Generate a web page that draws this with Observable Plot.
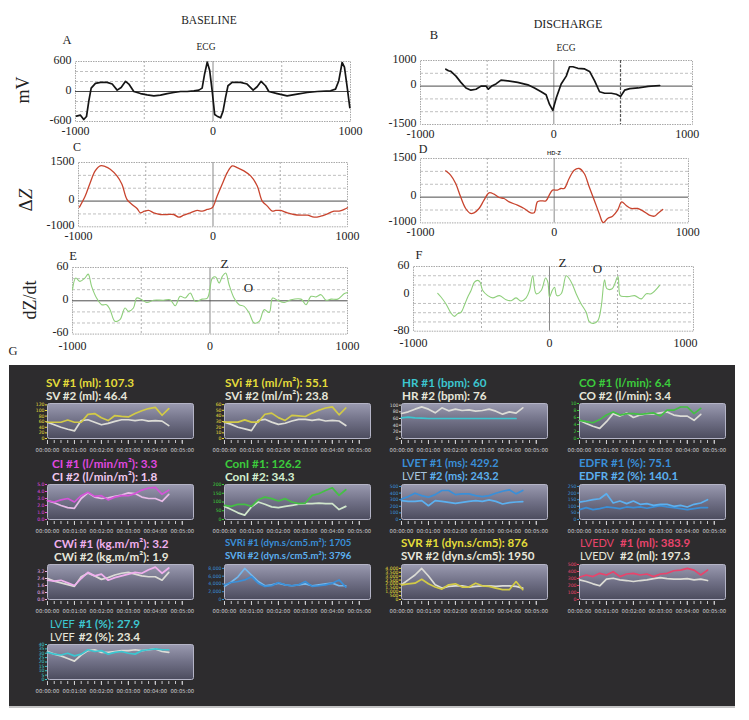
<!DOCTYPE html>
<html><head><meta charset="utf-8">
<script src="https://cdn.jsdelivr.net/npm/d3@7"></script>
<script src="https://cdn.jsdelivr.net/npm/@observablehq/plot@0.6"></script>
<style>
body{margin:0;background:#fff;}
#root{position:relative;width:749px;height:720px;overflow:hidden;background:#fff;}
</style></head><body>
<svg width="0" height="0" style="position:absolute"><defs>
<linearGradient id="boxGrad" x1="0" y1="0" x2="0" y2="1">
<stop offset="0" stop-color="#9a9ab0"/><stop offset="0.5" stop-color="#707086"/><stop offset="1" stop-color="#4c4c5e"/>
</linearGradient></defs></svg>
<div id="root"></div>
<script>
// ---------- top traces (time ms, value) ----------
const X_TICKS = [-1000, 0, 1000];
const ecgBase = [[-993,-493],[-964,-473],[-940,-560],[-920,-500],[-903,-189],[-886,68],[-855,162],[-818,182],[-770,182],[-733,149],[-697,27],[-668,81],[-636,203],[-612,149],[-576,0],[-527,-41],[-479,-68],[-430,-88],[-382,-74],[-333,-41],[-285,-20],[-236,0],[-188,0],[-139,14],[-103,27],[-79,68],[-61,351],[-42,588],[-24,419],[-6,14],[12,-459],[30,-493],[55,-527],[73,-392],[91,-122],[109,115],[139,182],[200,182],[248,149],[292,27],[321,95],[350,203],[382,115],[406,0],[467,-41],[539,-88],[612,-54],[685,-20],[758,0],[855,14],[891,47],[915,216],[939,580],[956,486],[976,81],[995,-324]];
const zBase = [[-993,-235],[-950,196],[-913,717],[-876,1173],[-839,1369],[-801,1343],[-764,1238],[-714,978],[-677,652],[-640,65],[-602,-130],[-565,-287],[-540,-456],[-510,-391],[-478,-365],[-441,-456],[-391,-522],[-342,-522],[-292,-522],[-255,-626],[-217,-548],[-168,-456],[-118,-365],[-81,-391],[-43,-326],[-6,-261],[31,196],[68,652],[106,1108],[143,1369],[180,1304],[230,1173],[280,978],[329,587],[366,0],[404,-196],[441,-391],[466,-365],[503,-365],[553,-456],[602,-522],[652,-548],[702,-548],[752,-626],[801,-587],[851,-496],[900,-391],[938,-391],[975,-326],[1000,-261]];
const dzBase = [[-1000,20],[-976,41],[-946,35],[-910,41],[-886,48],[-861,26],[-825,5],[-788,-7],[-752,-7],[-727,-16],[-691,-37],[-655,-34],[-618,-13],[-594,-19],[-557,-13],[-533,5],[-496,2],[-460,-3],[-411,1],[-338,1],[-290,2],[-253,-9],[-217,8],[-180,5],[-144,14],[-107,-1],[-58,3],[-19,5],[17,41],[41,43],[66,32],[90,44],[114,50],[139,29],[175,5],[212,-7],[248,-10],[285,-22],[321,-40],[358,-37],[394,-16],[431,-21],[455,5],[491,1],[540,-3],[589,2],[662,3],[698,-7],[735,8],[771,7],[808,11],[844,1],[881,3],[929,3],[978,13],[1000,15]];
const ecgDis = [[-810,659],[-790,600],[-772,573],[-734,390],[-697,146],[-659,-73],[-622,-159],[-584,-122],[-546,0],[-509,0],[-491,-122],[-466,0],[-434,85],[-396,232],[-346,207],[-271,146],[-195,49],[-145,-73],[-95,-220],[-58,-341],[-33,-707],[-8,-951],[18,-463],[55,85],[93,390],[118,756],[143,756],[180,695],[231,671],[268,573],[306,207],[343,-220],[381,-280],[431,-280],[469,-317],[501,-402],[531,-159],[569,-98],[632,-73],[707,-12],[794,24]];
const zDis = [[-812,1021],[-775,853],[-737,530],[-700,12],[-662,-441],[-625,-635],[-600,-609],[-562,-441],[-525,-117],[-487,167],[-450,115],[-412,-14],[-375,-53],[-337,-182],[-275,-312],[-225,-441],[-175,-609],[-150,-609],[-125,-182],[-100,-143],[-62,-143],[-37,77],[-12,271],[25,271],[50,335],[75,335],[112,724],[150,1047],[187,1112],[225,918],[262,400],[300,-117],[337,-635],[367,-990],[400,-829],[437,-739],[475,-506],[505,-182],[537,-312],[575,-441],[625,-441],[675,-570],[712,-700],[750,-739],[775,-635],[812,-480]];
const dzDis = [[-822,2],[-798,-6],[-761,-21],[-724,-41],[-699,-48],[-675,-42],[-650,-39],[-626,-24],[-601,-6],[-577,8],[-552,26],[-528,30],[-510,26],[-491,8],[-454,-3],[-417,-8],[-368,-3],[-319,-12],[-282,-14],[-245,-8],[-209,-15],[-172,-8],[-147,8],[-123,40],[-98,1],[-61,8],[-29,35],[-12,26],[0,-6],[20,8],[37,15],[54,-3],[86,1],[123,40],[147,33],[172,19],[196,1],[233,-21],[270,-39],[294,-60],[324,-63],[356,-57],[380,-28],[405,31],[422,12],[461,12],[503,38],[520,-3],[552,-5],[589,-5],[626,-3],[675,-10],[712,1],[748,1],[810,19]];
const annotE = [{label:"Z", t:105, v:67}, {label:"O", t:280, v:24}];
const annotF = [{label:"Z", t:95, v:69}, {label:"O", t:352, v:56}];

// ---------- monitor trends (seconds) ----------
const T = [0,15,30,45,60,75,90,105,120,135,150,165,180,195,210,225,240,255,270,285];
const QUARTER_TICKS = [0,15,30,45,60,75,90,105,120,135,150,165,180,195,210,225,240,255,270,285,300];
const MINUTE_TICKS = [0,60,120,180,240,300];
const SV1 = [58,58,58,66,58,58,86,89,74,64,82,79,77,89,99,107,111,83,107];
const SV2 = [58,49,40,33,27,64,67,58,49,54,61,67,67,64,67,62,64,62,46];
const SVi1 = [29,29,29,33,29,29,43,45,37,32,41,40,39,45,50,54,56,42,54];
const SVi2 = [29,25,20,17,14,32,34,29,25,27,31,34,34,32,34,31,32,31,23];
const HR1 = [62,64,62,61,60,60,60,60,60,60,60,60,60,60,60,60,60,60];
const HR2 = [75,80,88,95,88,77,92,83,88,84,86,82,84,88,82,73,80,76,92];
const CO1 = [5.2,4.8,4.5,5.4,6.7,7.6,6.7,7.1,7.1,6.9,7.1,7.3,6.4,8.1,8.1,9.0,9.0,7.1,8.6];
const CO2 = [5.2,4.3,3.5,2.9,4.8,7.1,6.4,7.3,6.0,6.7,7.1,7.0,7.3,7.6,6.7,6.4,6.4,5.2,6.9];
const CI1 = [2.7,2.5,2.8,3.0,2.5,3.4,3.9,3.3,3.4,2.8,3.2,3.4,3.4,3.7,4.2,4.5,4.6,3.6,4.2];
const CI2 = [2.7,2.4,2.0,1.7,1.6,3.0,3.8,3.2,3.0,3.1,3.3,3.5,3.8,3.7,3.2,3.0,3.0,2.6,3.6];
const ConI1 = [81,75,87,87,75,113,128,119,106,119,100,91,94,138,147,166,181,138,170];
const ConI2 = [75,57,38,25,72,100,87,72,68,75,81,87,91,91,94,91,91,57,75];
const LVET1 = [311,347,398,362,337,377,439,439,377,388,388,362,347,362,398,428,449,388,439];
const LVET2 = [286,275,275,286,209,286,275,260,245,260,275,286,275,296,275,235,255,265,270];
const EDFR1 = [75,90,75,82,95,90,82,95,90,95,85,95,105,95,90,82,75,82,90,90];
const EDFR2 = [132,140,150,157,195,125,140,120,140,115,120,107,115,115,100,107,95,115,125,150];
const CWi1 = [2.2,2.1,2.2,1.9,1.6,2.4,3.1,2.7,2.9,2.2,2.5,2.7,2.9,3.1,3.0,3.4,3.7,3.0,3.6];
const CWi2 = [2.4,2.1,1.9,1.7,1.5,2.6,3.0,2.7,2.3,2.5,2.8,3.0,3.1,2.9,2.7,2.6,2.6,2.2,3.1];
const SVRi1 = [3780,4370,4620,5040,5880,4200,3360,3530,4370,3780,3530,3780,4620,3360,3530,3780,4200,5040,3190];
const SVRi2 = [3370,4490,5830,7980,6300,4620,3530,3780,4200,3780,3530,3780,4030,3530,3780,4030,4200,3530,3530];
const SVR1 = [1890,2020,2100,2600,2020,1600,1340,1890,2020,1600,1600,2100,1760,1680,1470,1260,1260,2310,1260];
const SVR2 = [1890,2520,3150,3990,3020,1890,1470,1680,1760,1760,1600,1680,1760,1760,1680,1760,1760,1680,1470];
const LVEDV1 = [318,350,327,374,350,397,327,364,374,350,364,327,364,374,411,420,444,420,350,420];
const LVEDV2 = [280,257,224,196,290,304,280,271,257,271,280,299,313,299,290,290,299,280,290,271];
const LVEF1 = [31,29,28,30,27,29,34,32,33,29,31,32,30,29,33,34,35,34,34];
const LVEF2 = [32,29,27,24,21,28,33,34,31,31,32,33,33,34,33,34,35,32,31];

const C = {yel:"#e4dc3a", yelL:"#d2ca46", wht:"#e6e6da", whtL:"#dcdcd6", cyan:"#3cc6d0", green:"#3ccc3c", greenL:"#44c044",
  mag:"#e048e0", magL:"#d454d8", pink2:"#f0c8f0", pinkL2:"#e8bce8", green2:"#d4f0d0", greenW:"#d0e6cc",
  blue:"#3a8fd8", blue2:"#5cb0f0", lblue:"#a8c4dc", pink:"#f0b0ee", red:"#e8446c"};

const SERIF = '"Liberation Serif","DejaVu Serif",serif';
const SANS = 'Lato,"Open Sans","DejaVu Sans",sans-serif';
const root = document.getElementById("root");
function place(el, left, top) {
  el.style.position = "absolute"; el.style.left = left + "px"; el.style.top = top + "px";
  root.appendChild(el);
}
function label(html, x, y, css, anchor) {
  const d = document.createElement("div");
  d.innerHTML = html;
  const tx = anchor === "start" ? "0" : "-50%";
  d.style.cssText = `position:absolute;left:${x}px;top:${y}px;white-space:nowrap;line-height:1;transform:translate(${tx},-50%);` + (css || "");
  root.appendChild(d);
}

function tracePanel(p) {
  const mL = 50, mR = 10, mT = 10, mB = 26;
  const w = p.x1 - p.x0, h = p.y1 - p.y0;
  const marks = [
    Plot.ruleY(p.hGrid, {stroke: "#b0b0b0", strokeDasharray: "3,2", strokeWidth: 0.8}),
    Plot.ruleX(p.vGrid, {stroke: "#9a9a9a", strokeDasharray: "2,2", strokeWidth: 0.8}),
    Plot.frame({stroke: "#a8a8a8", strokeDasharray: "1.5,1"}),
  ];
  if (p.bold) marks.push(Plot.ruleX(p.bold, {stroke: "#555", strokeDasharray: "3,1.5", strokeWidth: 1.2}));
  marks.push(Plot.ruleX([0], {stroke: "#8a8a8a", strokeWidth: 1}));
  if (p.zeroH !== false) marks.push(Plot.ruleY([0], {stroke: "#4a4a4a", strokeWidth: 1}));
  marks.push(Plot.line(p.data, {x: d => d[0], y: d => d[1], stroke: p.color, strokeWidth: p.sw, curve: p.curve || "linear"}));
  if (p.annot) marks.push(Plot.text(p.annot, {x: "t", y: "v", text: "label", fontSize: 13, fill: "#222"}));
  marks.push(Plot.axisX({ticks: X_TICKS, tickSize: 0, tickPadding: p.xPad ?? 5, label: null, tickFormat: d => String(d)}));
  marks.push(Plot.axisY({ticks: p.yTicks, tickSize: 0, tickPadding: 4, label: null, tickFormat: d => String(d), dy: -1.5}));
  const svg = Plot.plot({
    width: w + mL + mR, height: h + mT + mB,
    marginLeft: mL, marginRight: mR, marginTop: mT, marginBottom: mB,
    style: {background: "transparent", fontFamily: SERIF, fontSize: "12px", color: "#222", overflow: "visible"},
    x: {domain: p.xDomain},
    y: {domain: p.yDomain},
    marks
  });
  place(svg, p.x0 - mL, p.y0 - mT);
}

// ---------- top section ----------
tracePanel({x0:75, x1:350, y0:61, y1:121, xDomain:[-1000,1000], yDomain:[-600,600], yTicks:[-600,0,600],
  hGrid:[-400,-200,200,400], vGrid:[-500,500], data: ecgBase, color:"#151515", sw:1.7});
tracePanel({x0:78, x1:347, y0:161.7, y1:226, xDomain:[-1000,1000], yDomain:[-1000,1500], yTicks:[-1000,0,1500],
  hGrid:[-500,500,1000], vGrid:[-500,500], data: zBase, color:"#c8442e", sw:1.3, curve:"catmull-rom"});
tracePanel({x0:72, x1:347, y0:266.7, y1:333.3, xPad:7, xDomain:[-1000,1000], yDomain:[-60,60], yTicks:[-60,0,60],
  hGrid:[-40,-20,20,40], vGrid:[-500,500], data: dzBase, color:"#8fcf7c", sw:1.1, curve:"catmull-rom", annot: annotE});
tracePanel({x0:420, x1:692, y0:60, y1:124, xDomain:[-1000,1040], yDomain:[-1500,1000], yTicks:[-1500,0,1000],
  hGrid:[-1000,-500,500], vGrid:[-500], bold:[500], data: ecgDis, color:"#151515", sw:1.7});
tracePanel({x0:420, x1:688, y0:158.3, y1:222.7, xDomain:[-1000,1005], yDomain:[-1000,1500], yTicks:[-1000,0,1500],
  hGrid:[-500,500,1000], vGrid:[-500,500], data: zDis, color:"#c8442e", sw:1.3, curve:"catmull-rom"});
tracePanel({x0:413, x1:693, y0:266, y1:330.7, xPad:7, xDomain:[-1000,1059], yDomain:[-80,60], yTicks:[-80,0,60],
  hGrid:[-60,-40,-20,20,40], vGrid:[-500,500], zeroH:false, data: dzDis, color:"#8fcf7c", sw:1.1, curve:"catmull-rom", annot: annotF});

const serifCss = `font-family:${SERIF};color:#222;`;
label("BASELINE", 209, 21, serifCss + "font-size:11.5px;");
label("DISCHARGE", 568, 24, serifCss + "font-size:12px;");
label("A", 67, 40, serifCss + "font-size:12.5px;");
label("B", 434, 35, serifCss + "font-size:12.5px;");
label("ECG", 206, 48, serifCss + "font-size:9.5px;");
label("ECG", 566, 49, serifCss + "font-size:9.5px;");
label("C", 77, 146.5, serifCss + "font-size:12px;");
label("D", 423, 148.5, serifCss + "font-size:12px;");
label("HD-Z", 554, 154, `font-family:${SANS};font-weight:700;color:#333;font-size:5.5px;`);
label("E", 73, 256, serifCss + "font-size:12.5px;");
label("F", 419, 255, serifCss + "font-size:12.5px;");
label("G", 13, 351, serifCss + "font-size:12.5px;");
const rot = "transform:translate(-50%,-50%) rotate(-90deg);";
label("mV", 23, 90, serifCss + "font-size:18px;" + rot);
label("Δ<i>Z</i>", 25, 200, serifCss + "font-size:19px;" + rot);
label("dZ/dt", 30, 300, serifCss + "font-size:18px;" + rot);

// ---------- monitor panel ----------
const dark = document.createElement("div");
dark.style.cssText = "position:absolute;left:9px;top:365px;width:726px;height:341px;background:#2d2c2e;border-bottom:2px solid #c4c4c4;";
root.appendChild(dark);

const hms = t => `00:${String(Math.floor(t / 60)).padStart(2, "0")}:${String(t % 60).padStart(2, "0")}`;
function gChart(c) {
  const mL = 20, mR = 4, mT = 2, mB = 18, w = 146, h = 35;
  const lines = c.series.map(([vals, col]) =>
    Plot.line(vals, {x: T.slice(0, vals.length), y: vals, stroke: col, strokeWidth: 1.7}));
  const svg = Plot.plot({
    width: w + mL + mR, height: h + mT + mB,
    marginLeft: mL, marginRight: mR, marginTop: mT, marginBottom: mB,
    style: {background: "transparent", fontFamily: '"DejaVu Sans",sans-serif', fontSize: "5.3px", overflow: "visible"},
    x: {domain: [0, 325]},
    y: {domain: c.yDomain},
    marks: [
      Plot.frame({fill: "url(#boxGrad)", stroke: "#b4b4c6", rx: 2}),
      Plot.axisX({ticks: QUARTER_TICKS, tickSize: 3, tickFormat: () => "", color: "#c8c8cc", dy: 2}),
      Plot.axisX({ticks: MINUTE_TICKS, tickSize: 4, tickPadding: 4, tickFormat: hms, color: "#cfcfd2", dy: 2}),
      Plot.axisY({ticks: c.yTicks, tickSize: 2, tickPadding: 1, color: c.axisColor, fontSize: 4.6}),
      ...lines
    ]
  });
  place(svg, c.x - mL, c.y - mT);
  c.titles.forEach((line, i) => {
    const html = line.map(([txt, col, wt, ml, fs]) =>
      `<span style="color:${col};font-weight:${wt || 700};${ml ? "margin-left:" + ml + "px;" : ""}${fs ? "font-size:" + fs + "px;" : ""}">${txt}</span>`).join("");
    label(html, c.tx, c.y - 21 + i * 13, `font-family:${SANS};font-size:${c.fs || 11.7}px;line-height:0.9;`, "start");
  });
}

const COLS = [47, 224, 401, 579];
const ROWS = [403, 484, 564, 644];
const gCharts = [
  {x:COLS[0], y:ROWS[0], tx:46, titles:[[["SV #1 (ml): 107.3", C.yel]], [["SV #2 (ml): 46.4", C.wht]]],
    yDomain:[0,125], yTicks:[0,20,40,60,80,100,120], axisColor:C.yel, series:[[SV2, C.whtL],[SV1, C.yelL]]},
  {x:COLS[1], y:ROWS[0], tx:225, titles:[[["SVi #1 (ml/m²): 55.1", C.yel]], [["SVi #2 (ml/m²): 23.8", C.wht]]],
    yDomain:[0,62], yTicks:[0,10,20,30,40,50,60], axisColor:C.yel, series:[[SVi2, C.whtL],[SVi1, C.yelL]]},
  {x:COLS[2], y:ROWS[0], tx:402, titles:[[["HR #1 (bpm): 60", C.cyan]], [["HR #2 (bpm): 76", C.wht]]],
    yDomain:[0,105], yTicks:[0,20,40,60,80,100], axisColor:"#d8d8d8", series:[[HR2, C.whtL],[HR1, C.cyan]]},
  {x:COLS[3], y:ROWS[0], tx:579, titles:[[["CO #1 (l/min): 6.4", C.green]], [["CO #2 (l/min): 3.4", C.wht]]],
    yDomain:[0,10], yTicks:[0,2,4,6,8,10], axisColor:C.green, series:[[CO2, C.whtL],[CO1, C.greenL]]},
  {x:COLS[0], y:ROWS[1], tx:52, titles:[[["CI #1 (l/min/m²): 3.3", C.mag]], [["CI #2 (l/min/m²): 1.8", C.pink2]]],
    yDomain:[0,5], yTicks:[0,1,2,3,4,5], axisColor:C.mag, series:[[CI2, C.pinkL2],[CI1, C.magL]]},
  {x:COLS[1], y:ROWS[1], tx:225, titles:[[["ConI #1: 126.2", C.green]], [["ConI #2: 34.3", C.green2]]],
    yDomain:[0,200], yTicks:[0,50,100,150,200], axisColor:C.green, series:[[ConI2, C.greenW],[ConI1, C.greenL]]},
  {x:COLS[2], y:ROWS[1], tx:402, fs:11, titles:[[["LVET #1 (ms): 429.2", C.blue]], [["LVET", C.lblue, 400], [" #2 (ms): 243.2", C.blue2]]],
    yDomain:[0,530], yTicks:[0,100,200,300,400,500], axisColor:C.blue, series:[[LVET2, C.blue2],[LVET1, C.blue]]},
  {x:COLS[3], y:ROWS[1], tx:579, fs:11.5, titles:[[["EDFR #1 (%): 75.1", C.blue]], [["EDFR #2 (%): 140.1", C.blue2]]],
    yDomain:[0,265], yTicks:[0,50,100,150,200,250], axisColor:C.blue, series:[[EDFR1, C.blue],[EDFR2, C.blue2]]},
  {x:COLS[0], y:ROWS[2], tx:54, titles:[[["CWi #1 (kg.m/m²): 3.2", C.pink]], [["CWi #2 (kg.m/m²): 1.9", C.wht]]],
    yDomain:[0,4], yTicks:[0,0.8,1.6,2.4,3.2], axisColor:C.pink, series:[[CWi2, C.whtL],[CWi1, C.pink]]},
  {x:COLS[1], y:ROWS[2], tx:225, fs:9.6, titles:[[["SVRi #1 (dyn.s/cm5.m²): 1705", C.blue]], [["SVRi #2 (dyn.s/cm5.m²): 3796", C.blue2]]],
    yDomain:[0,9000], yTicks:[0,2000,4000,6000,8000], axisColor:C.blue, series:[[SVRi2, "#74b8ee"],[SVRi1, C.blue]]},
  {x:COLS[2], y:ROWS[2], tx:401, fs:11.6, titles:[[["SVR #1 (dyn.s/cm5): 876", C.yel]], [["SVR #2 (dyn.s/cm5): 1950", C.wht]]],
    yDomain:[0,4500], yTicks:[0,500,1000,1500,2000,2500,3000,3500,4000], axisColor:C.yel, series:[[SVR2, C.whtL],[SVR1, C.yelL]]},
  {x:COLS[3], y:ROWS[2], tx:580, fs:11.5, titles:[[["LVEDV", C.red, 400, 0, 11], ["#1 (ml): 383.9", C.red, 700, 6]], [["LVEDV", C.wht, 400, 0, 11], ["#2 (ml): 197.3", C.wht, 700, 6]]],
    yDomain:[0,500], yTicks:[0,100,200,300,400,500], axisColor:C.red, series:[[LVEDV2, C.whtL],[LVEDV1, C.red]]},
  {x:COLS[0], y:ROWS[3], tx:50, fs:11.7, titles:[[["LVEF", C.cyan, 400, 0, 11], ["#1 (%): 27.9", C.cyan, 700, 4]], [["LVEF", C.wht, 400, 0, 11], ["#2 (%): 23.4", C.wht, 700, 4]]],
    yDomain:[0,40], yTicks:[0,5,10,15,20,25,30,35,40], axisColor:C.cyan, series:[[LVEF2, C.whtL],[LVEF1, C.cyan]]},
];
gCharts.forEach(gChart);
</script>
</body></html>
